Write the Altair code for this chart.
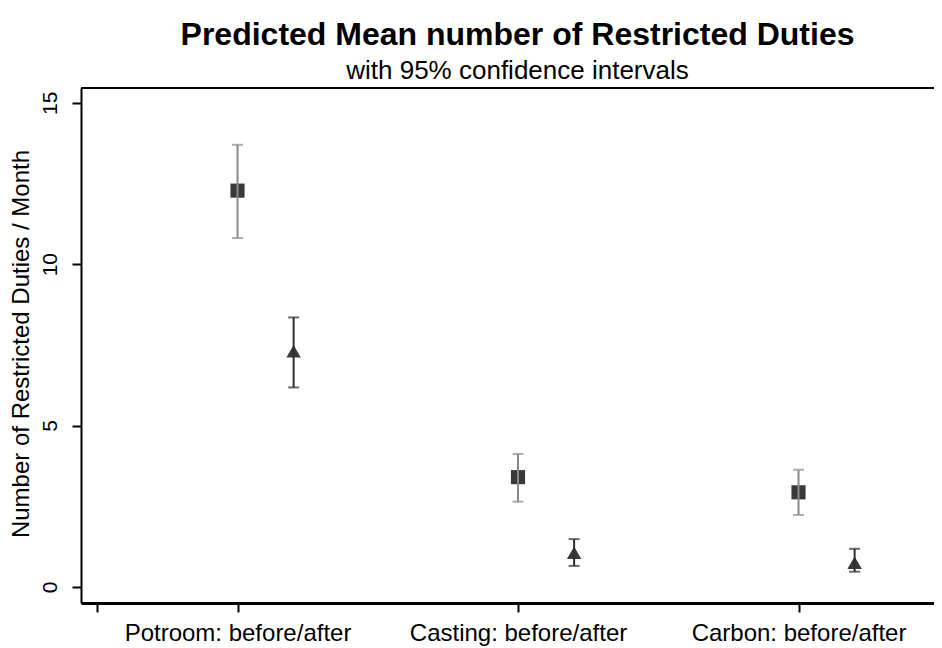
import altair as alt
import pandas as pd

categories = ["Potroom: before/after", "Casting: before/after", "Carbon: before/after"]
cat_pos = [1, 2, 3]
groups = ["before", "after"]
offsets = [0.0, 0.2]
means_before = [12.28, 3.40, 2.93]
lo_before = [10.81, 2.64, 2.23]
hi_before = [13.70, 4.12, 3.63]
means_after = [7.30, 1.06, 0.75]
lo_after = [6.18, 0.65, 0.47]
hi_after = [8.35, 1.48, 1.18]

rows = []
for i, c in enumerate(categories):
    rows.append(dict(cat=c, group="before", x=cat_pos[i] + offsets[0],
                     m=means_before[i], lo=lo_before[i], hi=hi_before[i]))
    rows.append(dict(cat=c, group="after", x=cat_pos[i] + offsets[1],
                     m=means_after[i], lo=lo_after[i], hi=hi_after[i]))
df = pd.DataFrame(rows)

FONT = "Liberation Sans, Arial"
W, H = 853, 515
xdom = [0.442, 0.442 + W / 280.5]
ydom = [-0.5, 15.46]

label_expr = ("datum.value == 1 ? 'Potroom: before/after' : datum.value == 2 ? "
              "'Casting: before/after' : datum.value == 3 ? 'Carbon: before/after' : ''")

xs = alt.Scale(domain=xdom, nice=False, zero=False)
ys = alt.Scale(domain=ydom, nice=False, zero=False)

xenc = alt.X("x:Q", scale=xs, axis=alt.Axis(
    values=[0.5, 1, 2, 3, 3.5], labelExpr=label_expr, title=None, grid=False,
    domainColor="black", domainWidth=3, tickColor="black", tickWidth=2, tickSize=9,
    labelFont=FONT, labelFontSize=24, labelColor="black", labelPadding=9, labelLimit=0))
yenc = alt.Y("m:Q", scale=ys, axis=alt.Axis(
    values=[0, 5, 10, 15], title="Number of Restricted Duties / Month", grid=False,
    domainColor="black", domainWidth=2, tickColor="black", tickWidth=2, tickSize=9,
    labelAngle=270, labelAlign="center", labelBaseline="bottom", labelPadding=12,
    labelFont=FONT, labelFontSize=21, labelColor="black",
    titleFont=FONT, titleFontSize=24, titleFontWeight="normal", titleColor="black",
    titleAngle=270, titleBaseline="middle", titleAlign="center",
    titleX=-60, titleY=H / 2 - 2))

color_scale = alt.Scale(domain=groups, range=["#8a8a8a", "#2e2e2e"])

points = alt.Chart(df).mark_point(filled=True, opacity=1, color="#3a3a3a").encode(
    x=xenc, y=yenc,
    shape=alt.Shape("group:N", scale=alt.Scale(domain=groups, range=["square", "triangle-up"]), legend=None),
    size=alt.Size("group:N", scale=alt.Scale(domain=groups, range=[200, 210]), legend=None),
)

rules = alt.Chart(df).mark_rule(strokeWidth=2).encode(
    x="x:Q", y="lo:Q", y2="hi:Q",
    color=alt.Color("group:N", scale=color_scale, legend=None),
)
cap_lo = alt.Chart(df).mark_tick(orient="horizontal", size=11, thickness=2).encode(
    x="x:Q", y="lo:Q", color=alt.Color("group:N", scale=color_scale, legend=None))
cap_hi = alt.Chart(df).mark_tick(orient="horizontal", size=11, thickness=2).encode(
    x="x:Q", y="hi:Q", color=alt.Color("group:N", scale=color_scale, legend=None))

top_border = alt.Chart(df).mark_rule(color="black", strokeWidth=2).encode(
    x=alt.value(0), x2=alt.value(W), y=alt.value(0))

chart = alt.layer(points, rules, cap_lo, cap_hi, top_border).properties(
    width=W, height=H,
    autosize=alt.AutoSizeParams(type="none"),
    padding={"left": 73, "top": 80, "right": 0, "bottom": 45},
    title=alt.TitleParams(
        text="Predicted Mean number of Restricted Duties",
        subtitle="with 95% confidence intervals",
        font=FONT, fontSize=32, fontWeight="bold", color="black",
        subtitleFont=FONT, subtitleFontSize=26, subtitleColor="black",
        subtitlePadding=6, anchor="middle", dx=10, offset=2),
).configure_view(stroke=None).configure(background="white")

chart.save("out.html", embed_options={"renderer": "svg", "actions": False})
